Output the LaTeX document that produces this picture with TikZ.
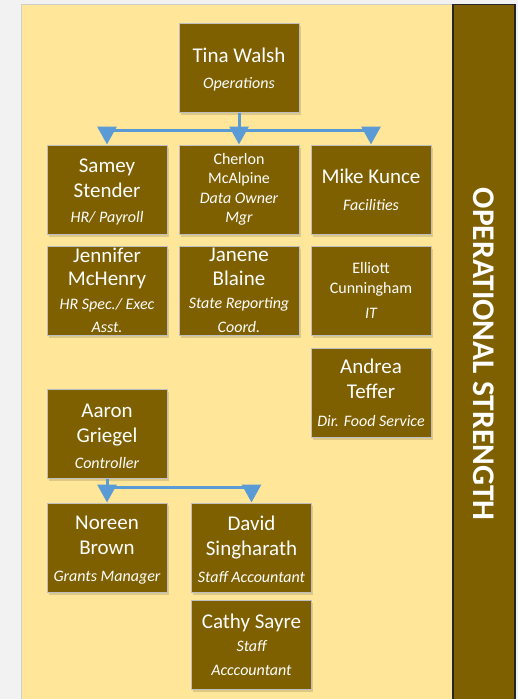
\documentclass[tikz,border=0pt]{standalone}
\usepackage{fontspec}
\setmainfont{Carlito}
\usetikzlibrary{arrows.meta, positioning, shadows}
\definecolor{ocBrown}{HTML}{7F6000}
\definecolor{ocGold}{HTML}{FFE699}
\definecolor{ocBlue}{HTML}{5B9BD5}
\definecolor{ocEdge}{HTML}{BFBFBF}
\definecolor{ocPage}{HTML}{F2F2F2}
\definecolor{ocRim}{HTML}{D0CEC8}
\newcommand{\roleline}[1]{{\fontsize{16}{25}\selectfont\itshape #1}}
\newcommand{\lift}{\rule{0pt}{19pt}}
\tikzset{
  person/.style={
    draw=ocEdge, line width=1pt, fill=ocBrown, text=white,
    minimum width=120pt, minimum height=89pt, inner sep=2pt, align=center,
    font=\fontsize{21}{25}\selectfont,
    drop shadow={fill=black, opacity=0.13, shadow xshift=1.5pt, shadow yshift=-2.5pt}
  },
  tightperson/.style={person, font=\fontsize{21}{23.5}\selectfont},
  smallperson/.style={person, font=\fontsize{16}{19.5}\selectfont},
  trunk/.style={line width=3pt, draw=ocBlue},
  flow/.style={-{Triangle[width=19pt, length=18pt]}, line width=3pt, draw=ocBlue},
  banner/.style={
    rotate=-90, fill=ocBrown, draw=black!85, line width=1.5pt,
    minimum width=699.5pt, minimum height=62pt, inner sep=0pt,
    text=white, font=\fontsize{31.5}{36}\selectfont\bfseries
  },
}

\begin{document}
\begin{tikzpicture}[x=1pt, y=-1pt]
  \fill[ocPage] (0,0) rectangle (518,699);
  \useasboundingbox (0,0) rectangle (518,699);
  \fill[ocGold] (21.5,4.5) rectangle (453,705);
  \draw[ocRim, line width=1.5pt] (21.5,705) -- (21.5,4.5) -- (453,4.5);
  \node[banner] (band) at (484,354.25) {OPERATIONAL STRENGTH};

  % operations
  \node[person] (tina) at (239,67.5) {\lift Tina Walsh\\[1pt]\roleline{Operations}};
  \node[person] (samey) at (107,189.5) {\lift Samey\\Stender\\\roleline{HR/ Payroll}};
  \node[smallperson] (cherlon) at (239,189.5)
    {Cherlon\\McAlpine\\\roleline{Data Owner}\\\roleline{Mgr}};
  \node[person] (mike) at (371,189.5) {Mike Kunce\\[2pt]\roleline{Facilities}};
  \node[tightperson, below=11pt of samey] (jennifer)
    {Jennifer\\McHenry\\\roleline{HR Spec./ Exec}\\\roleline{Asst.}};
  \node[tightperson, below=11pt of cherlon] (janene)
    {Janene\\Blaine\\\roleline{State Reporting}\\\roleline{Coord.}};
  \node[smallperson, below=11pt of mike] (elliott)
    {Elliott\\Cunningham\\[6pt]\roleline{IT}};
  \node[person, below=12pt of elliott] (andrea)
    {Andrea\\Teffer\\[3pt]\roleline{Dir. Food Service}};

  % finance
  \node[person] (aaron) at (107,433.5) {\lift Aaron\\Griegel\\[1pt]\roleline{Controller}};
  \node[person] (noreen) at (107,547.5) {\lift Noreen\\Brown\\[2pt]\roleline{Grants Manager}};
  \node[person] (david) at (251.5,547.5)
    {\lift David\\Singharath\\[2pt]\roleline{Staff Accountant}};
  \node[tightperson, below=7pt of david] (cathy)
    {Cathy Sayre\\\roleline{Staff}\\\roleline{Acccountant}};

  \coordinate (tj) at (239,130);
  \coordinate (aj) at (107,487);
  \draw[trunk] (tina.south) -- (tj);
  \draw[trunk] (samey.north |- tj) -- (mike.north |- tj);
  \draw[flow] (tj) -- (cherlon.north);
  \draw[flow] (samey.north |- tj) -- (samey.north);
  \draw[flow] (mike.north |- tj) -- (mike.north);
  \draw[trunk] (aaron.south) -- (aj) -- (david.north |- aj);
  \draw[flow] (aj) -- (noreen.north);
  \draw[flow] (david.north |- aj) -- (david.north);
\end{tikzpicture}
\end{document}
